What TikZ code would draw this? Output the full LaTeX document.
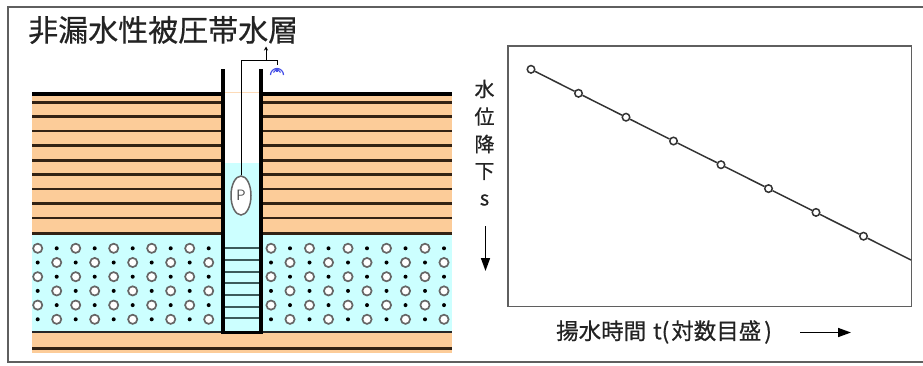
\documentclass[tikz,border=0pt]{standalone}
\usepackage{fontspec}
\newfontfamily\jp[FakeBold=0.6]{Noto Sans CJK JP}
\usetikzlibrary{arrows.meta,shapes.geometric}
\definecolor{clay}{RGB}{252,204,153}
\definecolor{water}{RGB}{204,255,255}
\definecolor{seam}{RGB}{50,34,20}
\definecolor{framegray}{RGB}{95,95,95}
\definecolor{screenline}{RGB}{60,90,90}
\definecolor{spray}{RGB}{70,80,230}
\definecolor{inkgray}{RGB}{35,35,35}
\tikzset{
  seamline/.style={draw=seam, line width=2.5pt},
  casing/.style={draw=black, line width=4pt},
  pebble/.style={draw=black!60, fill=white, line width=1.7pt},
  grain/.style={fill=black},
  datapt/.style={circle, draw=black!80, fill=white, line width=1.5pt, minimum size=7.5pt, inner sep=0pt},
  vlabel/.style={font=\jp\fontsize{20}{20}\selectfont, text=inkgray, inner sep=0pt},
  bigarrow/.style={line width=1.6pt, -{Triangle[length=13pt,width=9pt]}}
}
\begin{document}
\begin{tikzpicture}[x=1pt,y=-1pt]
\useasboundingbox (0,0) rectangle (923,365);

% outer frame (open on the right)
\draw[framegray, line width=2pt] (923,7) -- (8,7) -- (8,362) -- (923,362);

% title
\node[anchor=west, font=\jp\fontsize{30}{30}\selectfont, text=inkgray, inner sep=0pt] (title) at (28,30) {非漏水性被圧帯水層};

% ---------- ground section ----------
% upper confining clay
\fill[clay] (32,93) rectangle (222,235);
\fill[clay] (261,93) rectangle (452,235);
% confined aquifer
\fill[water] (32,235) rectangle (452,331);
% water standing in the well
\fill[water] (224,163) rectangle (259,331);
% lower confining clay
\fill[clay] (32,331) rectangle (452,353);

% faint ground line across the well
\draw[clay!70, line width=0.8pt] (224,92) -- (259,92);

% ground surface
\draw[black, line width=4pt] (32,93.5) -- (222,93.5);
\draw[black, line width=4pt] (261,93.5) -- (452,93.5);

% bedding seams in the upper clay
\foreach \y in {102.3,116.7,131,145.7,160.3,174.7,189,203.7,218}{
  \draw[seamline] (32,\y) -- (222,\y);
  \draw[seamline] (261,\y) -- (452,\y);
}
\draw[seam, line width=2.8pt] (32,233.5) -- (222,233.5);
\draw[seam, line width=2.8pt] (261,233.5) -- (452,233.5);

% lower clay seams
\draw[black!85, line width=2.8pt] (32,332) -- (452,332);
\draw[seamline] (32,348.5) -- (452,348.5);

% gravel of the aquifer
\foreach \k in {0,...,5}{
  \pgfmathsetmacro{\yy}{248.3+14.2*\k}
  \pgfmathtruncatemacro{\odd}{mod(\k,2)}
  \foreach \i in {0,...,4}{
    \pgfmathsetmacro{\xa}{37.7+38*\i}
    \pgfmathsetmacro{\xb}{56.7+38*\i}
    \pgfmathsetmacro{\xc}{271+38.5*\i}
    \pgfmathsetmacro{\xd}{290+38.5*\i}
    \ifnum\odd=0
      \draw[pebble] (\xa,\yy) circle[radius=4.6pt];
      \fill[grain] (\xb,\yy) circle[radius=2pt];
      \draw[pebble] (\xc,\yy) circle[radius=4.6pt];
      \fill[grain] (\xd,\yy) circle[radius=2pt];
    \else
      \fill[grain] (\xa,\yy) circle[radius=2pt];
      \draw[pebble] (\xb,\yy) circle[radius=4.6pt];
      \fill[grain] (\xc,\yy) circle[radius=2pt];
      \draw[pebble] (\xd,\yy) circle[radius=4.6pt];
    \fi
  }
}

% well screen
\foreach \k in {0,...,6}{
  \draw[screenline, line width=1.8pt] (224,248.3+11.67*\k) -- (259,248.3+11.67*\k);
}

% casing
\draw[casing] (222.5,69) -- (222.5,333.5);
\draw[casing] (260.8,69) -- (260.8,333.5);
\draw[black, line width=3pt] (221,332.5) -- (262.5,332.5);

% pump and discharge pipe
\node[ellipse, draw=black!60, fill=white, line width=1.5pt, minimum width=20pt, minimum height=39pt, inner sep=0pt,
      font=\sffamily\fontsize{15}{15}\selectfont, text=black!70] (pump) at (241,195.5) {P};
\coordinate (pipebend) at (241,60.5);
\coordinate (outlet) at (277.5,65);
\draw[black, line width=1pt] (pump.north) -- (pipebend) -| (outlet);
\coordinate (flowbase) at (266,60.5);
\coordinate (flowtip) at (266,46.5);
\draw[black, line width=1pt, -{Stealth[length=4pt,width=4pt]}] (flowbase) -- (flowtip);

% discharge spray
\draw[spray, line width=1.2pt] (270.5,75) arc[start angle=180, end angle=0, radius=6.5pt];
\draw[spray, line width=1.1pt] (277,68.5) -- (277,72);
\draw[spray, line width=1.1pt] (277,68.5) -- (273.5,72.5);
\draw[spray, line width=1.1pt] (277,68.5) -- (280.5,72.5);

% ---------- drawdown plot ----------
\draw[framegray, line width=1.8pt] (508,46) rectangle (911.5,306.5);

\node[datapt] (p1) at (531,69.3) {};
\node[datapt] (p2) at (578.5,93.3) {};
\node[datapt] (p3) at (626,117.2) {};
\node[datapt] (p4) at (673.5,141) {};
\node[datapt] (p5) at (721,164.7) {};
\node[datapt] (p6) at (768.5,188.6) {};
\node[datapt] (p7) at (816,212.4) {};
\node[datapt] (p8) at (863.5,236.2) {};
\coordinate (lineend) at (911,260);
\draw[black!80, line width=1.5pt] (p1) -- (p2) -- (p3) -- (p4) -- (p5) -- (p6) -- (p7) -- (p8) -- (lineend);

% vertical axis label
\node[vlabel] (ya) at (484.5,89) {水};
\node[vlabel] (yb) at (484.5,116.5) {位};
\node[vlabel] (yc) at (484.5,144) {降};
\node[vlabel] (yd) at (484.5,171.5) {下};
\node[vlabel] (ys) at (484.5,200) {s};
\coordinate (sdown0) at (485.5,226);
\coordinate (sdown1) at (485.5,271);
\draw[bigarrow] (sdown0) -- (sdown1);

% horizontal axis label
\node[anchor=west, font=\jp\fontsize{22.5}{22.5}\selectfont, text=inkgray, inner sep=0pt] (xl) at (556,332)
  {揚水時間\hspace{7pt}t(\hspace{2pt}対数目盛\hspace{3pt})};
\coordinate (tright0) at (800,332.5);
\coordinate (tright1) at (851,332.5);
\draw[bigarrow] (tright0) -- (tright1);
\end{tikzpicture}
\end{document}
